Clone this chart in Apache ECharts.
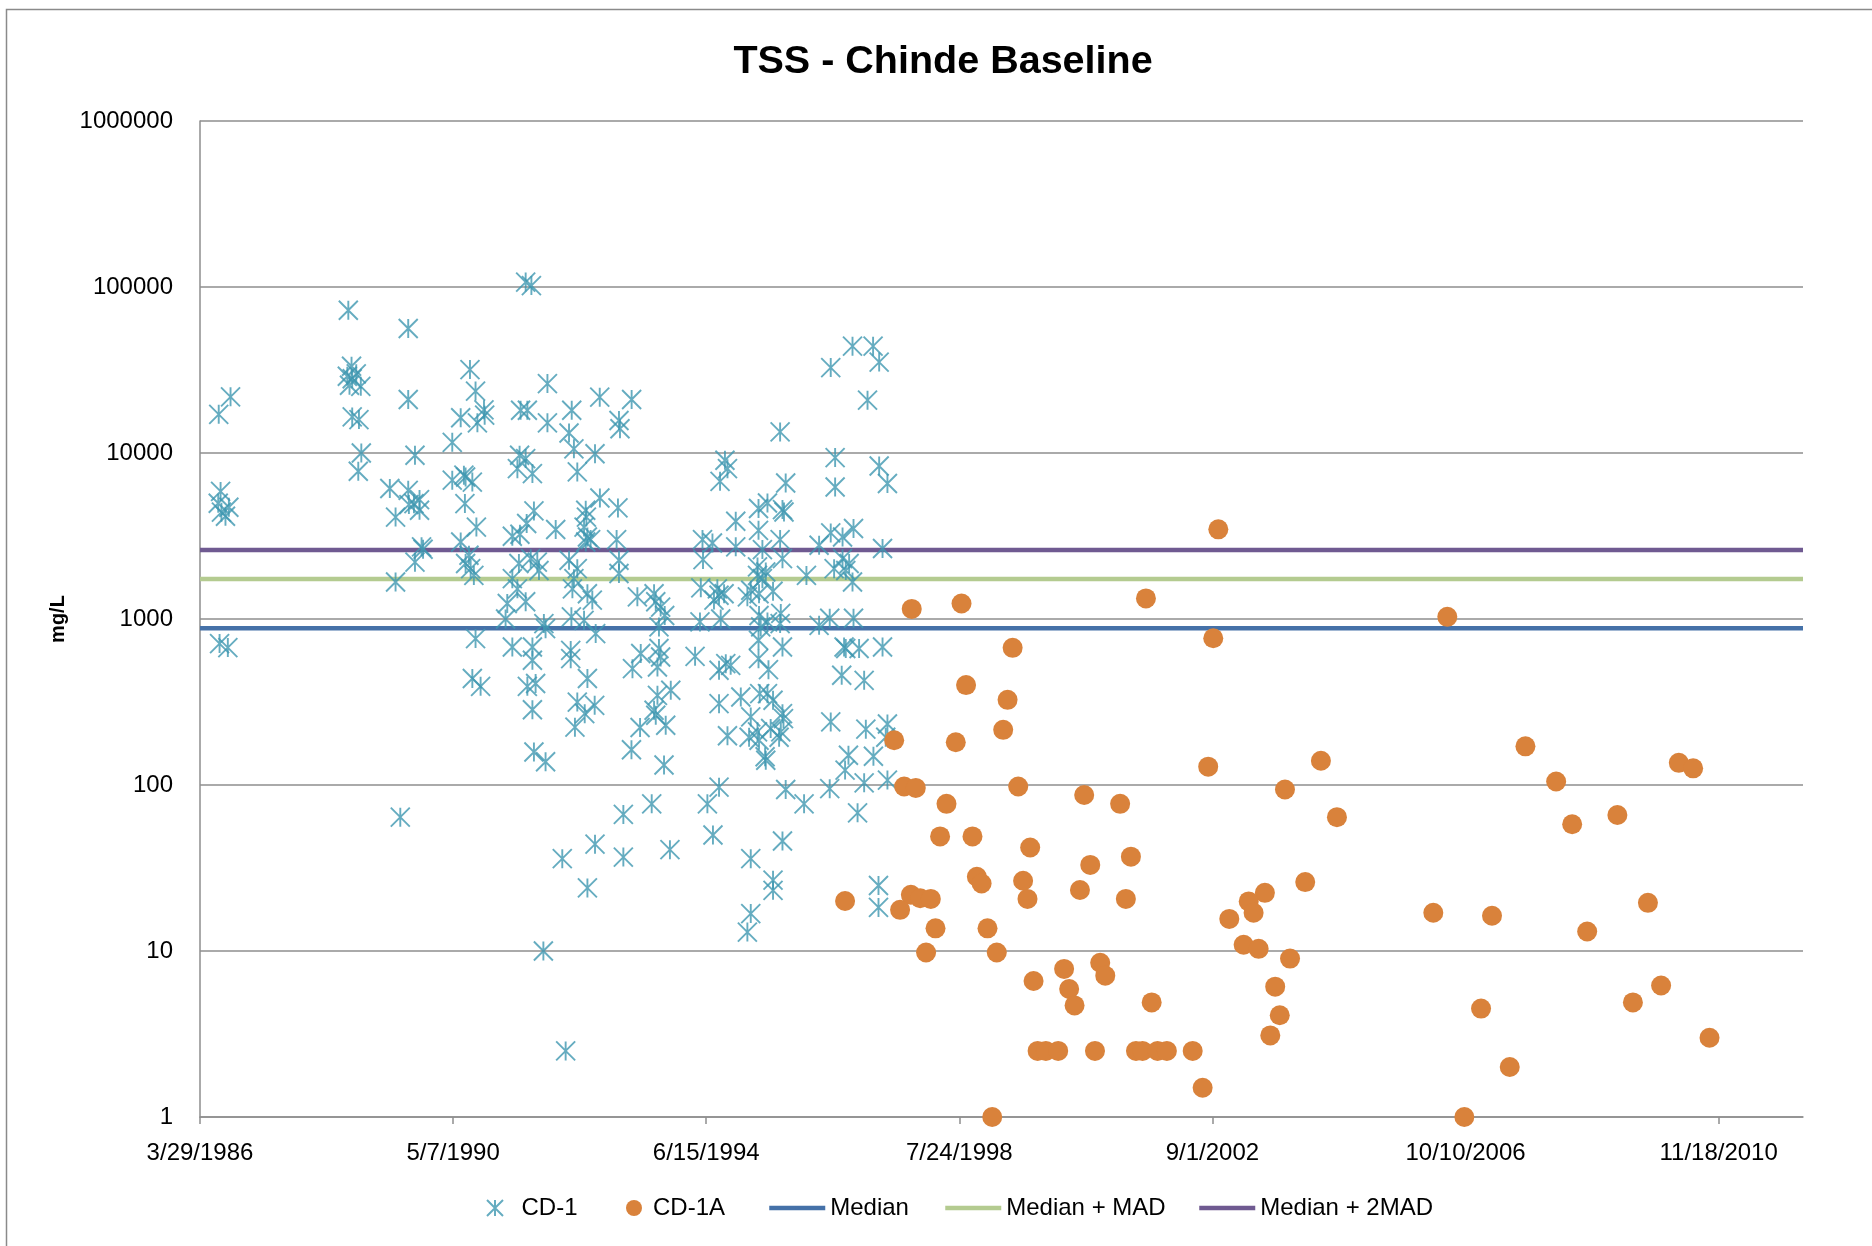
<!DOCTYPE html>
<html>
<head>
<meta charset="utf-8">
<title>TSS - Chinde Baseline</title>
<script src="https://cdn.jsdelivr.net/npm/echarts@6/dist/echarts.min.js"></script>
<style>
  html, body { margin: 0; padding: 0; background: #fff; }
  #main { width: 1872px; height: 1246px; }
</style>
</head>
<body>
<div id="main"></div>
<script>
// x values are Excel serial day numbers (the sheet's date axis), y values in mg/L
const xTickLabels = ['3/29/1986', '5/7/1990', '6/15/1994', '7/24/1998', '9/1/2002', '10/10/2006', '11/18/2010'];
const xAxisEnd = 41000;

const cd1 = [
  [31611, 17100], [31681, 21800], [31622, 5870], [31608, 4980], [31671, 4710], [31651, 4160], [31627, 4400], [31616, 711], [31665, 673],
  [32379, 72400], [32373, 29000], [32398, 33300], [32402, 28000], [32426, 30000], [32453, 25200], [32386, 25600],
  [32402, 16500], [32442, 15900], [32456, 10000], [32438, 7760],
  [32734, 56200], [32734, 21000], [32774, 9690], [32625, 6110], [32734, 5960], [32738, 4890], [32801, 5240], [32801, 4520], [32768, 4950], [32659, 4110],
  [32813, 2720], [32822, 2630], [32774, 2200], [32659, 1670], [32687, 64],
  [33430, 107000], [33464, 102000], [33100, 31800], [33133, 23600], [33183, 18200], [33187, 16900], [33045, 16300], [33144, 15200],
  [33559, 26200], [33400, 18100], [33440, 18100], [33559, 15200], [33703, 18100], [33687, 13200], [33869, 21700], [34058, 21000],
  [33983, 15700], [33989, 14000], [32995, 11600], [33716, 10600], [33841, 9900], [33394, 9690], [33430, 9250], [33381, 8050],
  [33470, 7520], [32995, 6860], [33064, 7350], [33074, 7170], [33114, 6680], [33736, 7690], [33070, 4960], [33870, 5360],
  [33977, 4670], [33479, 4480], [33436, 3760], [33786, 4520], [33790, 4110], [33138, 3580], [33608, 3460], [33351, 3150],
  [33396, 3240], [33045, 2910], [33776, 3580], [33796, 3120], [33786, 2910], [33815, 3010], [33969, 3010], [33094, 2420],
  [33074, 2160], [33123, 1830], [33104, 2010], [33460, 2310], [33499, 2200], [33390, 2160], [33509, 1960], [33687, 2260],
  [33736, 2010], [33716, 1750], [33983, 2260], [33983, 1880], [33351, 1750], [33381, 1520], [33707, 1520], [33796, 1420],
  [33825, 1300], [34092, 1360], [34191, 1420], [34201, 1270], [34230, 1180], [34254, 1050], [33430, 1270], [33321, 1240],
  [33311, 1000], [33538, 938], [33548, 875], [33701, 1030], [33776, 982], [34220, 896], [33133, 762], [33845, 817],
  [33351, 678], [33470, 678], [33470, 564], [33697, 647], [33697, 577], [34112, 620], [34220, 664], [34230, 590],
  [34211, 514], [34063, 502], [33114, 438], [33163, 393], [33440, 393], [33489, 409], [33796, 438], [34211, 347], [34290, 372],
  [33470, 284], [33736, 316], [33839, 302], [33780, 269], [33722, 223], [34108, 222], [34191, 282], [34201, 263], [34260, 229],
  [33479, 158], [33548, 138], [34057, 163], [34250, 132], [34177, 77], [34009, 66.5], [33841, 44], [34009, 36.8], [34285, 40.8],
  [33647, 36], [33796, 24], [33535, 10], [33667, 2.5],
  [35367, 44000], [35489, 44000], [35525, 35300], [35238, 32700], [35456, 20800], [34938, 13400], [35264, 9380], [35525, 8350],
  [35574, 6550], [34611, 9040], [34626, 8050], [34582, 6750], [34971, 6600], [35264, 6240], [34863, 5000], [34810, 4630],
  [34952, 4560], [34961, 4410], [34675, 3880], [34810, 3420], [35238, 3300], [35308, 3120], [35373, 3510], [34478, 3010],
  [34537, 2870], [34938, 3010], [34675, 2720], [35169, 2780], [35545, 2660], [34833, 2620], [34481, 2280], [34952, 2310],
  [35308, 2310], [35347, 2160], [35327, 1960], [35258, 2010], [35367, 1670], [34804, 2060], [34853, 1920], [34833, 1750],
  [34804, 1830], [35094, 1830], [34468, 1540], [34566, 1520], [34576, 1390], [34606, 1420], [34546, 1300], [34764, 1490],
  [34744, 1360], [34813, 1420], [34896, 1470], [34586, 1000], [34463, 960], [34813, 1050], [34863, 960], [34942, 1080],
  [34938, 938], [34823, 896], [35232, 1010], [35373, 1010], [35169, 916], [34434, 596], [34810, 745], [34810, 577],
  [34952, 678], [35317, 678], [35327, 664], [35406, 664], [35545, 678], [34576, 491], [34616, 538], [34645, 526],
  [34869, 495], [35303, 458], [35436, 427],
  [34576, 309], [34705, 339], [34817, 355], [34863, 355], [34896, 324], [34952, 269], [34958, 251], [34764, 257],
  [34626, 198], [34754, 194], [34804, 209], [34813, 186], [34882, 219], [34932, 194], [34942, 209], [34849, 148],
  [34853, 141], [35238, 240], [35446, 217], [35574, 233], [35564, 194], [35343, 151], [35323, 123], [35491, 149],
  [34576, 97], [34507, 77], [34971, 94], [35080, 77], [35232, 95], [35436, 103], [35574, 107], [35397, 68],
  [34540, 50], [34952, 46], [34764, 36], [34896, 26.7], [34896, 23.2], [35521, 24.8], [35521, 18.3], [34764, 16.8], [34744, 13]
];

const cd1a = [
  [35718, 1150], [36013, 1240], [37106, 1330], [36316, 670], [36040, 400], [36286, 326], [36260, 215], [35614, 186], [35979, 181],
  [35673, 98], [35742, 96], [36349, 98], [36740, 87], [36953, 77], [35924, 77], [35886, 49], [36078, 49], [36420, 42],
  [37017, 37], [36776, 33], [36104, 28], [36132, 25.5], [36378, 26.5], [36715, 23.3], [35713, 21.8], [35768, 20.8],
  [35831, 20.6], [36404, 20.6], [36987, 20.6], [35649, 17.7], [35859, 13.7], [36167, 13.7], [35803, 9.8], [36222, 9.8],
  [36621, 7.8], [36835, 8.5], [36865, 7.1], [36440, 6.6], [36651, 5.9], [36683, 4.7], [37140, 4.9],
  [36464, 2.5], [36513, 2.5], [36586, 2.5], [36804, 2.5], [37047, 2.5], [37086, 2.5], [37175, 2.5], [37230, 2.5], [37383, 2.5],
  [36195, 1], [35323, 20],
  [37535, 3470], [37505, 766], [38892, 1030], [37475, 129], [38143, 140], [37930, 94], [38238, 64], [38050, 26],
  [37811, 22.4], [37715, 19.9], [37744, 17], [37600, 15.6], [38809, 17], [39157, 16.3], [37685, 10.9], [37774, 10.3],
  [37960, 9], [37872, 6.1], [37899, 4.1], [37843, 3.1], [39092, 4.5], [37442, 1.5], [38993, 1],
  [39355, 171], [39537, 105], [39632, 58], [39900, 66], [40264, 136], [40349, 126], [39721, 13.1], [40081, 19.5],
  [39992, 4.9], [40159, 6.2], [39262, 2], [40446, 3]
];

const median = 880;
const medianPlusMad = 1740;
const medianPlus2Mad = 2600;

const FONT = '"Liberation Sans", Arial, sans-serif';
const GRAY = '#8e8e8e';
const STAR_COLOR = '#3e97b0';
const DOT_COLOR = '#d9823b';

const EXCEL_EPOCH = Date.UTC(1899, 11, 30);
function serialToLabel(s) {
  const d = new Date(EXCEL_EPOCH + Math.round(s) * 86400000);
  return (d.getUTCMonth() + 1) + '/' + d.getUTCDate() + '/' + d.getUTCFullYear();
}
function labelToSerial(str) {
  const p = str.split('/').map(Number);
  return Math.round((Date.UTC(p[2], p[0] - 1, p[1]) - EXCEL_EPOCH) / 86400000);
}
const xTicks = xTickLabels.map(labelToSerial);

// horizontal reference line across the whole date axis
function refLine(name, value, color) {
  return {
    name: name,
    type: 'line',
    data: [[xTicks[0], value], [xAxisEnd, value]],
    color: color,
    symbol: 'none',
    showSymbol: false,
    silent: true,
    lineStyle: { color: color, width: 4.5 },
    z: 1
  };
}

const legendBase = {
  top: 1196,
  padding: 0,
  selectedMode: false,
  lineStyle: { width: 4.5 },
  textStyle: { fontSize: 24, color: '#000', fontFamily: FONT }
};

const chart = echarts.init(document.getElementById('main'));
chart.setOption({
  backgroundColor: '#fff',
  animation: false,
  textStyle: { fontFamily: FONT },
  title: {
    text: 'TSS - Chinde Baseline',
    left: 943,
    textAlign: 'center',
    top: 42,
    padding: 0,
    textStyle: { fontSize: 39.5, fontWeight: 'bold', color: '#000', fontFamily: FONT }
  },
  grid: { left: 200, right: 69, top: 121, bottom: 129 },
  xAxis: {
    type: 'value',
    min: xTicks[0],
    max: xAxisEnd,
    interval: xTicks[1] - xTicks[0],
    axisLine: { lineStyle: { color: GRAY, width: 1.5 } },
    axisTick: { show: true, length: 7, customValues: xTicks, lineStyle: { color: GRAY, width: 1.5 } },
    axisLabel: {
      customValues: xTicks,
      margin: 24,
      fontSize: 24,
      color: '#000',
      fontFamily: FONT,
      formatter: serialToLabel
    },
    splitLine: { show: false }
  },
  yAxis: {
    type: 'log',
    logBase: 10,
    min: 1,
    max: 1000000,
    splitNumber: 6,
    name: 'mg/L',
    nameLocation: 'middle',
    nameGap: 132,
    nameRotate: 90,
    nameTextStyle: { fontSize: 20, fontWeight: 'bold', color: '#000', fontFamily: FONT },
    axisLine: { show: true, lineStyle: { color: GRAY, width: 1.5 } },
    axisTick: { show: false },
    axisLabel: {
      margin: 27,
      fontSize: 24,
      color: '#000',
      fontFamily: FONT,
      formatter: function (v) { return String(Math.round(v)); }
    },
    splitLine: { show: true, lineStyle: { color: GRAY, width: 1.5 } }
  },
  legend: [
    Object.assign({ data: ['CD-1'], left: 486, itemWidth: 43, itemHeight: 16 }, legendBase),
    Object.assign({ data: ['CD-1A'], left: 626, itemWidth: 28, itemHeight: 16 }, legendBase),
    Object.assign({ data: ['Median'], left: 767, itemWidth: 56, itemHeight: 5 }, legendBase),
    Object.assign({ data: ['Median + MAD'], left: 943, itemWidth: 56, itemHeight: 5 }, legendBase),
    Object.assign({ data: ['Median + 2MAD'], left: 1197, itemWidth: 56, itemHeight: 5 }, legendBase)
  ],
  graphic: [{
    type: 'rect',
    silent: true,
    z: -10,
    shape: { x: 6.5, y: 9.5, width: 2000, height: 2000 },
    style: { fill: 'none', stroke: '#8a8a8a', lineWidth: 1.5 }
  }],
  series: [
    {
      name: 'CD-1',
      type: 'scatter',
      data: cd1,
      symbol: 'path://M0,0L20,20M20,0L0,20M10,0L10,20',
      symbolSize: 19,
      color: STAR_COLOR,
      itemStyle: { color: 'rgba(0,0,0,0)', borderColor: STAR_COLOR, borderWidth: 1.9 },
      z: 2
    },
    {
      name: 'CD-1A',
      type: 'scatter',
      data: cd1a,
      symbol: 'circle',
      symbolSize: 20,
      itemStyle: { color: DOT_COLOR, opacity: 1 },
      z: 3
    },
    refLine('Median', median, '#4571a8'),
    refLine('Median + MAD', medianPlusMad, '#b4cb90'),
    refLine('Median + 2MAD', medianPlus2Mad, '#6f5a91')
  ]
});
</script>
</body>
</html>
